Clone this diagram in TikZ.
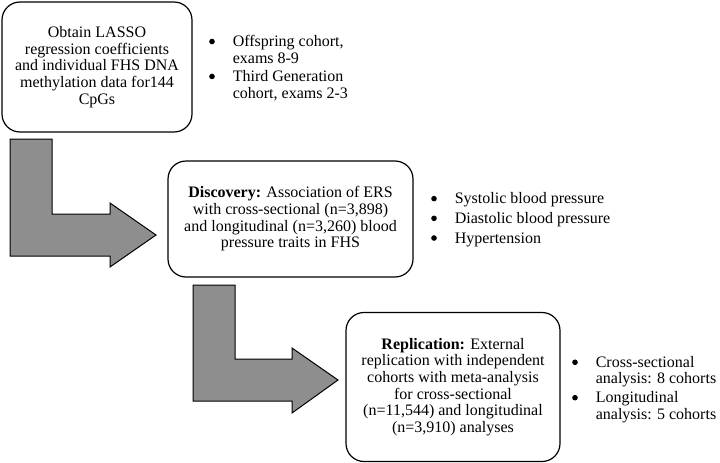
\documentclass[tikz,border=0pt]{standalone}
\usepackage{fontspec}
\setmainfont{Liberation Serif}
\usetikzlibrary{positioning}
\definecolor{arrowgray}{RGB}{142,142,142}

\newcommand{\bigbul}{\tikz[baseline=-5pt]\fill (0,0) circle (2.8pt);}

\tikzset{
  stage/.style={draw, line width=1.2pt, rounded corners=18pt, align=center,
    inner sep=0pt, font=\fontsize{16}{16.7}\selectfont},
  bullets/.style={anchor=west, inner sep=0pt, font=\fontsize{16}{16.7}\selectfont},
  bendarrow/.style={draw, line width=1pt, fill=arrowgray, line join=miter}
}

\begin{document}
\begin{tikzpicture}[x=1pt,y=-1pt]
\useasboundingbox (0,0) rectangle (720,463);

% --- Stage boxes ---
\node[stage, minimum width=190pt, minimum height=130pt] (obtain) at (97,67)
  {Obtain LASSO\\ regression coefficients\\ and individual FHS DNA\\ methylation data for144\\ CpGs};

\node[stage, minimum width=245pt, minimum height=116pt] (discovery) at (290.5,219)
  {\textbf{Discovery:} Association of ERS\\ with cross-sectional (n=3,898)\\ and longitudinal (n=3,260) blood\\ pressure traits in FHS};

\node[stage, minimum width=214pt, minimum height=149pt] (replication) at (453,387)
  {\textbf{Replication:} External\\ replication with independent\\ cohorts with meta-analysis\\ for cross-sectional\\ (n=11,544) and longitudinal\\ (n=3,910) analyses};

% --- Bullet lists beside the boxes ---
\node[bullets] (cohorts) at (209,69)
  {\begin{tabular}{@{}l@{\hspace{18pt}}l@{}}
   \bigbul & Offspring cohort,\\
           & exams 8-9\\[1.5pt]
   \bigbul & Third Generation\\
           & cohort, exams 2-3
   \end{tabular}};

\node[bullets] (traits) at (431,220)
  {\begin{tabular}{@{}l@{\hspace{18pt}}l@{}}
   \bigbul & Systolic blood pressure\\[3pt]
   \bigbul & Diastolic blood pressure\\[3pt]
   \bigbul & Hypertension
   \end{tabular}};

\node[bullets] (metacohorts) at (572,390)
  {\begin{tabular}{@{}l@{\hspace{18pt}}l@{}}
   \bigbul & Cross-sectional\\
           & analysis: 8 cohorts\\[2pt]
   \bigbul & Longitudinal\\
           & analysis: 5 cohorts
   \end{tabular}};

% --- Bent block arrows ---
\draw[bendarrow] (10,139) -- (52,139) -- (52,214) -- (110,214) -- (110,203)
  -- (156,235) -- (110,267) -- (110,256) -- (10,256) -- cycle;

\draw[bendarrow] (193,285) -- (235,285) -- (235,359) -- (292,359) -- (292,348)
  -- (338,380) -- (292,413) -- (292,401) -- (193,401) -- cycle;

\end{tikzpicture}
\end{document}
